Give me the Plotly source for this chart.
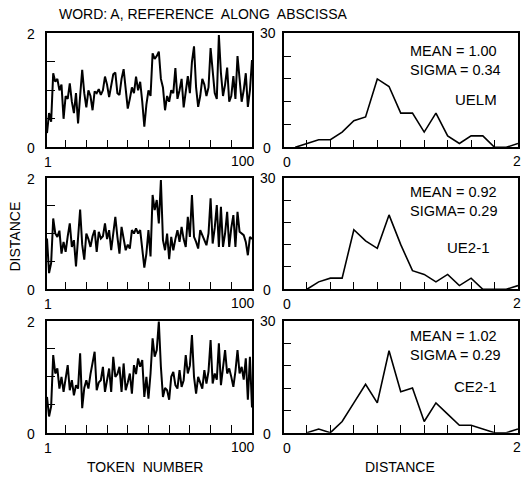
import plotly.graph_objects as go

# ---------------- data ----------------
tokens = list(range(1, 101))

uelm_series = [0.25, 0.60, 0.45, 1.30, 1.15, 1.20, 1.00, 1.10, 0.50, 0.90,
               0.85, 1.12, 0.80, 0.60, 0.95, 0.42, 0.90, 1.36, 0.95, 0.70,
               1.00, 0.90, 0.65, 0.98, 0.95, 1.02, 0.92, 1.00, 1.24, 1.10,
               0.88, 1.10, 1.28, 1.31, 0.95, 0.92, 1.20, 1.37, 0.95, 0.68,
               0.85, 1.05, 0.95, 1.24, 1.00, 1.15, 0.80, 0.36, 0.75, 1.00,
               0.90, 1.65, 1.55, 1.60, 1.68, 1.20, 1.05, 0.65, 0.90, 0.80,
               1.00, 0.95, 1.39, 0.85, 1.00, 1.20, 0.70, 1.00, 1.25, 0.95,
               1.50, 1.77, 1.05, 0.71, 0.90, 1.20, 1.10, 0.90, 1.05, 1.74,
               1.30, 0.95, 0.85, 1.97, 1.30, 0.90, 1.10, 1.40, 0.80, 0.90,
               1.25, 0.85, 1.60, 1.20, 0.80, 1.00, 1.30, 0.71, 1.00, 1.53]

ue21_series = [0.91, 0.29, 0.47, 1.27, 1.00, 0.94, 1.05, 0.64, 0.85, 0.67,
               0.95, 1.18, 0.76, 0.88, 0.41, 0.94, 1.43, 0.80, 0.53, 1.00,
               0.90, 0.76, 0.95, 1.06, 0.67, 1.03, 0.91, 0.95, 1.18, 0.90,
               1.06, 0.70, 1.00, 1.30, 0.94, 0.64, 1.12, 0.90, 0.70, 0.80,
               0.73, 1.06, 1.00, 1.09, 1.00, 1.06, 0.70, 0.39, 0.64, 1.06,
               0.59, 1.69, 1.42, 1.60, 1.18, 1.96, 0.88, 0.70, 1.00, 0.54,
               0.94, 0.70, 0.90, 1.06, 0.85, 1.12, 0.90, 0.76, 1.30, 0.94,
               1.69, 0.94, 0.85, 0.73, 1.06, 0.95, 0.88, 0.79, 1.00, 1.63,
               0.82, 1.10, 1.51, 0.76, 1.48, 0.76, 1.00, 1.39, 0.76, 1.10,
               1.33, 0.76, 1.39, 1.03, 1.00, 0.97, 0.85, 0.61, 0.94, 0.90]

ce21_series = [0.64, 0.29, 0.47, 1.39, 1.06, 1.15, 0.79, 1.00, 0.73, 0.95,
               1.21, 0.76, 0.94, 0.67, 0.85, 0.79, 1.42, 0.44, 0.80, 0.94,
               0.79, 1.05, 1.27, 1.45, 0.76, 0.90, 0.94, 1.18, 0.73, 0.95,
               1.15, 0.73, 1.36, 1.00, 1.05, 1.18, 0.73, 1.24, 0.76, 0.90,
               1.06, 0.70, 1.21, 1.05, 1.33, 1.18, 1.30, 0.64, 1.00, 0.61,
               1.06, 1.69, 1.36, 1.48, 1.99, 1.18, 0.64, 0.80, 0.76, 0.59,
               1.00, 1.09, 0.85, 0.79, 1.12, 0.82, 0.94, 1.39, 1.06, 1.20,
               1.75, 1.00, 0.70, 1.00, 0.90, 0.79, 1.12, 0.88, 1.10, 1.66,
               0.88, 1.06, 0.95, 1.60, 0.85, 1.12, 1.48, 1.06, 1.15, 1.00,
               0.82, 1.10, 1.48, 1.06, 1.18, 0.95, 1.33, 0.59, 1.36, 0.45]

hist_x_full = [0.1, 0.2, 0.3, 0.4, 0.5, 0.6, 0.7, 0.8, 0.9, 1.0,
               1.1, 1.2, 1.3, 1.4, 1.5, 1.6, 1.7, 1.8, 1.9, 2.0]
hist_x_from02 = hist_x_full[1:]

uelm_counts = [0, 1, 2, 2, 4, 7, 8, 18, 16, 9, 9, 4, 9, 3, 1, 3, 3, 0, 0, 1]
ue21_counts = [0, 2, 3, 3, 16, 13, 11, 20, 12, 5, 4, 2, 4, 1, 3, 0, 0, 0, 1]
ce21_counts = [0, 1, 0, 3, 8, 13, 8, 22, 11, 12, 3, 8, 5, 2, 2, 1, 0, 0, 1]

names = ["UELM", "UE2-1", "CE2-1"]
mean_texts = ["MEAN = 1.00", "MEAN = 0.92", "MEAN = 1.02"]
sigma_texts = ["SIGMA = 0.34", "SIGMA= 0.29", "SIGMA = 0.29"]

series_list = [uelm_series, ue21_series, ce21_series]
hist_x_list = [hist_x_full, hist_x_from02, hist_x_from02]
counts_list = [uelm_counts, ue21_counts, ce21_counts]

token_ticks = [10, 20, 30, 40, 50, 60, 70, 80, 90]
dist_ticks = [0.5, 1.0, 1.5]
hx_ticks = [0.2, 0.4, 0.6, 0.8, 1.0, 1.2, 1.4, 1.6, 1.8]
hy_ticks = [6, 12, 18, 24]

# ---------------- layout geometry ----------------
W, H = 522, 478
left_dom = [47 / W, 252 / W]
right_dom = [283.5 / W, 518 / W]
rows_px = [(33.3, 147.3), (177.7, 289.3), (321.0, 432.7)]
stats_px = [61, 202, 345]     # centre of the two-line MEAN/SIGMA block
name_y_px = [99, 247, 386]
name_x_px = [476, 468, 475]

FONT = "Liberation Sans"
fig = go.Figure()
layout = dict(
    width=W, height=H,
    margin=dict(l=0, r=0, t=0, b=0),
    paper_bgcolor="white", plot_bgcolor="white",
    showlegend=False,
    font=dict(family=FONT, size=14, color="black"),
)
annotations = []


def ax_name(letter, i):
    return letter if i == 1 else f"{letter}{i}"


def axis_common(rng, tickvals, dom):
    return dict(range=rng, domain=dom, tickvals=tickvals, ticks="inside",
                ticklen=8, tickwidth=1.3, tickcolor="black",
                showticklabels=False, showgrid=False, zeroline=False,
                showline=True, linecolor="black", linewidth=1.5, mirror=True,
                fixedrange=True)


for r in range(3):
    top, bot = rows_px[r]
    ydom = [1 - bot / H, 1 - top / H]
    li = 2 * r + 1
    ri = 2 * r + 2
    lx, ly = ax_name("x", li), ax_name("y", li)
    rx, ry = ax_name("x", ri), ax_name("y", ri)
    lkey = "" if li == 1 else str(li)
    rkey = str(ri)
    fig.add_trace(go.Scatter(x=tokens, y=series_list[r], mode="lines",
                             line=dict(color="black", width=2),
                             xaxis=lx, yaxis=ly, hoverinfo="skip"))
    fig.add_trace(go.Scatter(x=hist_x_list[r], y=counts_list[r], mode="lines",
                             line=dict(color="black", width=1.6),
                             xaxis=rx, yaxis=ry, hoverinfo="skip"))
    layout[f"xaxis{lkey}"] = axis_common([1, 100], token_ticks, left_dom) | dict(anchor=ly)
    layout[f"yaxis{lkey}"] = axis_common([0, 2], dist_ticks, ydom) | dict(anchor=lx)
    layout[f"xaxis{rkey}"] = axis_common([0, 2], hx_ticks, right_dom) | dict(anchor=ry)
    layout[f"yaxis{rkey}"] = axis_common([0, 30], hy_ticks, ydom) | dict(anchor=rx)

    annotations += [
        dict(text="2", xref=f"{lx} domain", x=0, xanchor="right", xshift=-10,
             yref=ly, y=2, yanchor="middle", yshift=-1, showarrow=False),
        dict(text="0", xref=f"{lx} domain", x=0, xanchor="right", xshift=-10,
             yref=ly, y=0, yanchor="middle", yshift=-1, showarrow=False),
        dict(text="1", xref=lx, x=1, xanchor="center", xshift=1,
             yref=ly, y=0, yanchor="top", yshift=-5, showarrow=False),
        dict(text="100", xref=lx, x=100, xanchor="right", xshift=5,
             yref=ly, y=0, yanchor="top", yshift=-4, showarrow=False),
        dict(text="30", xref=f"{rx} domain", x=0, xanchor="right", xshift=-6,
             yref=ry, y=30, yanchor="middle", showarrow=False),
        dict(text="0", xref=f"{rx} domain", x=0, xanchor="right", xshift=-11,
             yref=ry, y=0, yanchor="middle", yshift=-1, showarrow=False),
        dict(text="0", xref=rx, x=0, xanchor="center", xshift=3,
             yref=ry, y=0, yanchor="top", yshift=-5, showarrow=False),
        dict(text="2", xref=rx, x=2, xanchor="center", xshift=-1,
             yref=ry, y=0, yanchor="top", yshift=-4, showarrow=False),
    ]
    annotations += [
        dict(text=mean_texts[r] + "<br>" + sigma_texts[r], xref="paper",
             x=408 / W, xanchor="left", align="left",
             yref="paper", y=1 - stats_px[r] / H, yanchor="middle",
             showarrow=False, font=dict(size=14.5)),
        dict(text=names[r], xref="paper", x=name_x_px[r] / W, xanchor="center",
             yref="paper", y=1 - name_y_px[r] / H, yanchor="middle",
             showarrow=False, font=dict(size=15)),
    ]

annotations += [
    dict(text="WORD: A, REFERENCE  ALONG  ABSCISSA", xref="paper", x=57 / W,
         xanchor="left", yref="paper", y=1 - 14 / H, yanchor="middle",
         showarrow=False, font=dict(size=14)),
    dict(text="DISTANCE", xref="paper", x=14.5 / W, xanchor="center",
         yref="paper", y=1 - 237 / H, yanchor="middle", textangle=-90,
         showarrow=False, font=dict(size=14)),
    dict(text="TOKEN  NUMBER", xref="paper", x=145 / W, xanchor="center",
         yref="paper", y=1 - 467 / H, yanchor="middle", showarrow=False,
         font=dict(size=14)),
    dict(text="DISTANCE", xref="paper", x=400 / W, xanchor="center",
         yref="paper", y=1 - 467 / H, yanchor="middle", showarrow=False,
         font=dict(size=14)),
]
layout["annotations"] = annotations
fig.update_layout(**layout)
fig.write_html("out.html")
